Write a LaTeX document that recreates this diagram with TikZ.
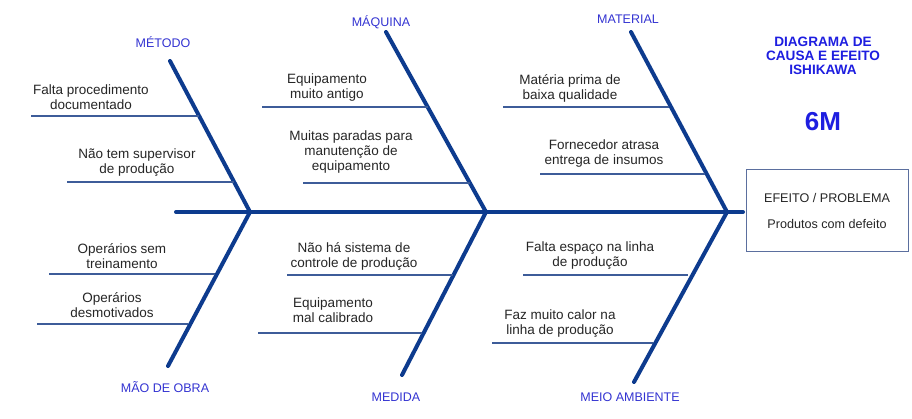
\documentclass[tikz,border=0pt]{standalone}
\usepackage{fontspec}
\setmainfont{Liberation Sans}
\definecolor{bonec}{HTML}{0D3B8E}
\definecolor{causec}{HTML}{3D5C99}
\definecolor{txtc}{HTML}{262626}
\definecolor{catc}{HTML}{3434D2}
\definecolor{titc}{HTML}{1E1EE0}
\definecolor{boxc}{HTML}{5B6F9E}
\begin{document}
\begin{tikzpicture}[x=1pt,y=-1pt,
  bone/.style={draw=bonec, line width=4pt, line cap=round, line join=miter},
  cline/.style={draw=causec, line width=1.3pt},
  cause/.style={font=\fontsize{13.5}{15}\selectfont, text=txtc, align=center, inner sep=0pt},
  cat/.style={font=\fontsize{12.5}{14}\selectfont, text=catc, inner sep=0pt},
  titlefont/.style={font=\bfseries\fontsize{13.6}{14}\selectfont, text=titc, align=center, inner sep=0pt},
  boxtext/.style={font=\fontsize{12.6}{14}\selectfont, text=txtc, inner sep=0pt}]
\useasboundingbox (0,0) rectangle (912,419);
\fill[white] (0,0) rectangle (912,419);

% spine and bones
\coordinate (sL) at (176,212);
\coordinate (sR) at (743,212);
\coordinate (j1) at (250,212);
\coordinate (j2) at (486,212);
\coordinate (j3) at (727,212);
\coordinate (tMet) at (170,61);
\coordinate (bMao) at (168,366);
\coordinate (tMaq) at (386,32);
\coordinate (bMed) at (402,375);
\coordinate (tMat) at (631,32);
\coordinate (bMei) at (634,382);

\draw[bone] (sL) -- (sR);
\draw[bone] (tMet) -- (j1) -- (bMao);
\draw[bone] (tMaq) -- (j2) -- (bMed);
\draw[bone] (tMat) -- (j3) -- (bMei);

% category labels
\node[cat] (met) at (163,42) {MÉTODO};
\node[cat] (maq) at (381,22) {MÁQUINA};
\node[cat] (mat) at (628,19) {MATERIAL};
\node[cat] (mao) at (165,387) {MÃO DE OBRA};
\node[cat] (med) at (396,397) {MEDIDA};
\node[cat] (mei) at (630,397) {MEIO AMBIENTE};

% causes - Metodo
\node[cause] (c1) at (91,97) {Falta procedimento\\documentado};
\coordinate (c1a) at (31,116); \coordinate (c1b) at (199,116);
\draw[cline] (c1a) -- (c1b);
\node[cause] (c2) at (137,163) {Não tem supervisor\\de produção};
\coordinate (c2a) at (67,182); \coordinate (c2b) at (234,182);
\draw[cline] (c2a) -- (c2b);

% Maquina
\node[cause] (c3) at (327,88) {Equipamento\\muito antigo};
\coordinate (c3a) at (262,107); \coordinate (c3b) at (428,107);
\draw[cline] (c3a) -- (c3b);
\node[cause] (c4) at (351,152) {Muitas paradas para\\manutenção de\\equipamento};
\coordinate (c4a) at (303,183); \coordinate (c4b) at (470,183);
\draw[cline] (c4a) -- (c4b);

% Material
\node[cause] (c5) at (570,88) {Matéria prima de\\baixa qualidade};
\coordinate (c5a) at (503,107); \coordinate (c5b) at (669,107);
\draw[cline] (c5a) -- (c5b);
\node[cause] (c6) at (604,154) {Fornecedor atrasa\\entrega de insumos};
\coordinate (c6a) at (540,174); \coordinate (c6b) at (705,174);
\draw[cline] (c6a) -- (c6b);

% Mao de obra
\node[cause] (c7) at (122,256) {Operários sem\\treinamento};
\coordinate (c7a) at (49,274); \coordinate (c7b) at (215,274);
\draw[cline] (c7a) -- (c7b);
\node[cause] (c8) at (112,305) {Operários\\desmotivados};
\coordinate (c8a) at (37,324); \coordinate (c8b) at (188,324);
\draw[cline] (c8a) -- (c8b);

% Medida
\node[cause] (c9) at (354,256) {Não há sistema de\\controle de produção};
\coordinate (c9a) at (287,275); \coordinate (c9b) at (453,275);
\draw[cline] (c9a) -- (c9b);
\node[cause] (c10) at (333,310) {Equipamento\\mal calibrado};
\coordinate (c10a) at (258,333); \coordinate (c10b) at (422,333);
\draw[cline] (c10a) -- (c10b);

% Meio ambiente
\node[cause] (c11) at (590,256) {Falta espaço na linha\\de produção};
\coordinate (c11a) at (523,275); \coordinate (c11b) at (688,275);
\draw[cline] (c11a) -- (c11b);
\node[cause] (c12) at (560,324) {Faz muito calor na\\linha de produção};
\coordinate (c12a) at (492,343); \coordinate (c12b) at (653,343);
\draw[cline] (c12a) -- (c12b);

% effect box
\coordinate (bx1) at (746,170);
\coordinate (bx2) at (908,252);
\draw[draw=boxc, line width=1pt] (bx1) rectangle (bx2);
\node[boxtext] (ef) at (827,198) {EFEITO / PROBLEMA};
\node[boxtext] (pr) at (827,224) {Produtos com defeito};

% title
\node[titlefont] (tit) at (823,56) {DIAGRAMA DE\\CAUSA E EFEITO\\ISHIKAWA};
\node[font=\bfseries\fontsize{26}{28}\selectfont, text=titc, inner sep=0pt] (sixm) at (823,122) {6M};
\end{tikzpicture}
\end{document}
